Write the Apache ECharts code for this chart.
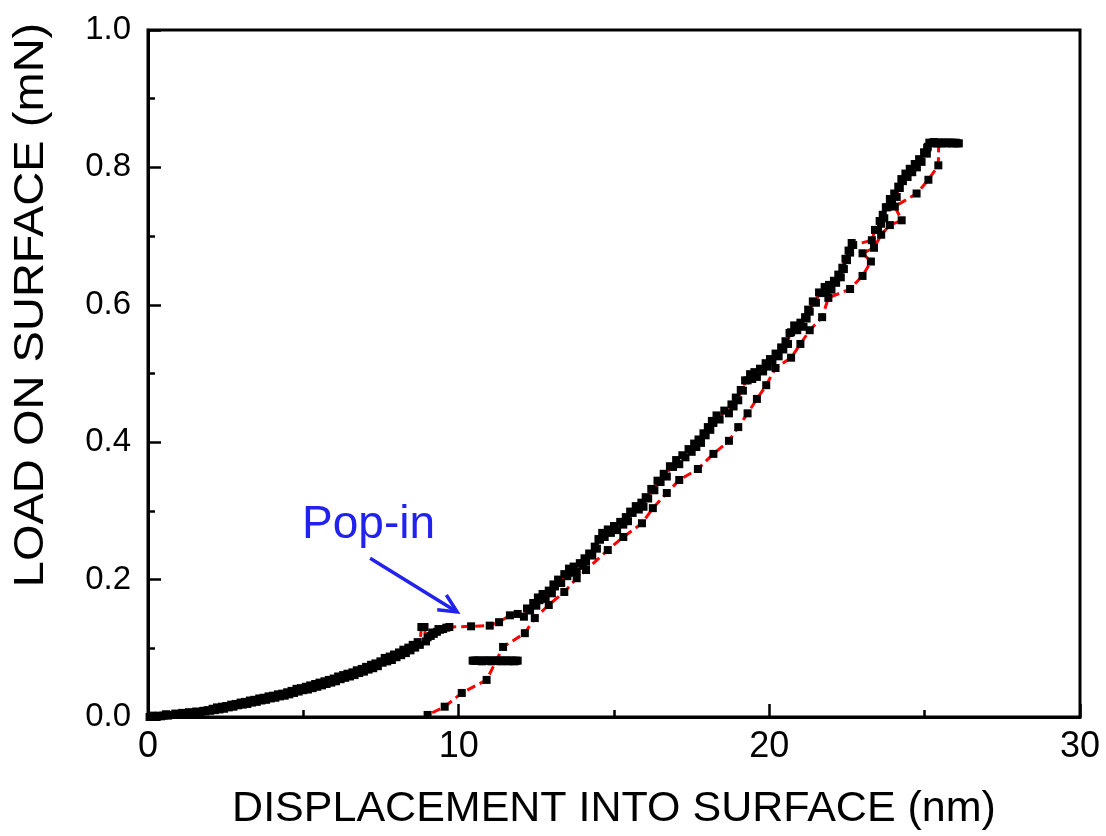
<!DOCTYPE html>
<html>
<head>
<meta charset="utf-8">
<script src="https://cdn.jsdelivr.net/npm/echarts@6/dist/echarts.min.js"></script>
<style>html,body{margin:0;padding:0;background:#fff}#c{width:1106px;height:836px}</style>
</head>
<body>
<div id="c"></div>
<script>
// Loading segment (incl. pop-in)
var loadX = [0.05,0.12,0.2,0.28,0.35,0.42,0.5,0.58,0.65,0.72,0.8,0.88,0.95,1.02,1.1,1.18,1.25,1.32,1.4,1.48,1.55,1.62,1.7,1.78,1.85,1.92,2.0,2.08,2.15,2.22,2.3,2.38,2.45,2.52,2.6,2.68,2.75,2.82,2.9,2.98,3.05,3.12,3.2,3.28,3.35,3.42,3.5,3.58,3.65,3.72,3.8,3.88,3.95,4.02,4.1,4.18,4.25,4.32,4.4,4.48,4.55,4.62,4.7,4.78,4.85,4.92,5.0,5.08,5.15,5.22,5.3,5.38,5.45,5.52,5.6,5.68,5.75,5.82,5.9,5.98,6.05,6.12,6.2,6.28,6.35,6.42,6.5,6.58,6.65,6.72,6.8,6.88,6.95,7.02,7.1,7.18,7.25,7.32,7.4,7.48,7.55,7.62,7.7,7.78,7.85,7.92,8.0,8.08,8.15,8.22,8.3,8.38,8.45,8.52,8.6,8.68,8.75,8.8,8.9,8.95,9.0,9.1,9.15,9.2,9.3,9.35,9.4,9.5,9.6,9.7,
  10.4,11.0,11.3,11.65,11.9,
  12.1,12.2,12.3,12.4,12.5,12.55,12.6,12.7,12.8,12.9,13.0,13.05,13.1,13.2,13.3,13.4,13.5,13.55,13.6,13.7,13.8,13.9,14.0,14.05,14.1,14.2,14.3,14.38,14.45,14.5,14.55,14.62,14.7,14.8,14.9,15.0,15.1,15.2,15.3,15.38,15.45,15.52,15.6,15.7,15.8,15.88,15.95,16.02,16.1,16.2,16.3,16.4,16.5,16.6,16.7,16.8,16.9,17.0,17.1,17.2,17.3,17.4,17.5,17.58,17.65,17.72,17.8,17.88,17.95,18.02,18.1,18.15,18.2,18.3,18.4,18.55,18.7,18.78,18.85,18.92,19.0,19.08,19.15,19.22,19.3,19.38,19.45,19.52,19.6,19.7,19.8,19.88,19.95,20.02,20.1,20.2,20.3,20.38,20.45,20.52,20.6,20.65,20.7,20.8,20.9,21.0,21.1,21.15,21.2,21.25,21.3,21.4,21.5,21.6,21.7,21.78,21.85,21.92,22.0,22.08,22.15,22.22,22.3,22.35,22.4,22.45,22.5,22.55,22.6,22.65,22.7,
  23.3,23.4,23.5,23.55,23.6,23.65,23.7,23.75,23.8,23.88,23.95,24.02,24.1,24.15,24.2,24.25,24.3,24.38,24.45,24.52,24.6,24.68,24.75,24.82,24.9,24.98,25.07,25.08,25.1];
var loadY = [0.000,0.002,0.001,0.000,0.002,0.001,0.002,0.004,0.002,0.003,0.003,0.005,0.003,0.004,0.006,0.004,0.005,0.007,0.005,0.006,0.008,0.006,0.007,0.009,0.008,0.010,0.009,0.012,0.010,0.014,0.011,0.015,0.012,0.016,0.014,0.018,0.015,0.019,0.017,0.021,0.018,0.022,0.019,0.024,0.021,0.025,0.022,0.027,0.024,0.028,0.025,0.030,0.027,0.031,0.028,0.033,0.030,0.034,0.031,0.036,0.033,0.038,0.035,0.041,0.037,0.042,0.039,0.044,0.040,0.046,0.042,0.048,0.044,0.050,0.046,0.052,0.048,0.054,0.050,0.056,0.052,0.059,0.055,0.061,0.057,0.063,0.059,0.065,0.061,0.068,0.064,0.070,0.066,0.073,0.069,0.076,0.071,0.078,0.074,0.081,0.079,0.086,0.081,0.088,0.083,0.091,0.087,0.094,0.090,0.098,0.093,0.101,0.097,0.105,0.101,0.109,0.105,0.131,0.131,0.110,0.116,0.118,0.123,0.121,0.124,0.128,0.127,0.128,0.130,0.131,
  0.132,0.133,0.138,0.148,0.150,
  0.146,0.158,0.155,0.166,0.162,0.174,0.170,0.179,0.172,0.184,0.180,0.193,0.190,0.200,0.195,0.208,0.205,0.216,0.210,0.219,0.212,0.224,0.220,0.231,0.226,0.238,0.235,0.248,0.245,0.259,0.258,0.268,0.262,0.273,0.268,0.278,0.272,0.284,0.280,0.291,0.285,0.299,0.297,0.307,0.302,0.312,0.306,0.320,0.318,0.332,0.330,0.344,0.342,0.354,0.350,0.365,0.364,0.374,0.368,0.381,0.378,0.390,0.386,0.398,0.393,0.404,0.399,0.413,0.410,0.422,0.418,0.431,0.428,0.439,0.433,0.446,0.442,0.455,0.452,0.465,0.461,0.476,0.475,0.490,0.490,0.499,0.492,0.502,0.495,0.507,0.503,0.515,0.510,0.521,0.517,0.529,0.525,0.538,0.535,0.547,0.543,0.559,0.560,0.570,0.563,0.574,0.568,0.582,0.580,0.593,0.590,0.605,0.603,0.618,0.617,0.626,0.620,0.629,0.622,0.635,0.632,0.644,0.640,0.654,0.652,0.667,0.665,0.679,0.676,0.690,0.687,
  0.694,0.709,0.709,0.722,0.718,0.731,0.726,0.742,0.742,0.754,0.750,0.762,0.757,0.772,0.770,0.783,0.780,0.791,0.786,0.798,0.793,0.805,0.800,0.812,0.808,0.822,0.820,0.828,0.830];
// Hold at peak load
var holdMaxX = [25.15,25.2,25.25,25.3,25.35,25.4,25.45,25.5,25.55,25.6,25.65,25.7,25.75,25.8,25.85,25.9,25.95,26.0,26.05,26.1];
var holdMaxY = [0.836,0.835,0.836,0.837,0.836,0.835,0.836,0.836,0.835,0.836,0.836,0.835,0.836,0.836,0.835,0.836,0.835,0.836,0.835,0.835];
// Unloading segment
var unloadX = [25.45,25.44,25.12,24.74,24.04,24.26,23.88,23.6,23.37,23.0,23.27,23.0,22.6,21.9,21.7,21.3,21.0,20.7,20.2,19.9,19.6,19.3,19.0,18.7,18.2,17.7,17.1,16.7,16.25,15.9,15.3,14.8,14.1,13.8,13.4,12.9,12.45,12.13,11.43,10.9,10.1,9.55,9.0];
var unloadY = [0.835,0.803,0.782,0.762,0.743,0.723,0.716,0.702,0.683,0.675,0.663,0.642,0.623,0.610,0.582,0.563,0.543,0.523,0.508,0.483,0.463,0.442,0.422,0.402,0.383,0.361,0.345,0.326,0.304,0.282,0.262,0.243,0.214,0.202,0.182,0.163,0.144,0.122,0.102,0.054,0.035,0.015,0.003];
// Hold at low load (thermal drift)
var holdLowX = [11.9,11.85,11.8,11.75,11.7,11.65,11.6,11.55,11.5,11.45,11.4,11.35,11.3,11.25,11.2,11.15,11.1,11.05,11.0,10.95,10.9,10.85,10.8,10.75,10.7,10.65,10.6,10.55,10.5,10.45];
var holdLowY = [0.082,0.082,0.081,0.082,0.082,0.082,0.081,0.082,0.082,0.082,0.082,0.081,0.082,0.082,0.082,0.082,0.082,0.081,0.082,0.082,0.082,0.082,0.082,0.081,0.082,0.082,0.082,0.082,0.082,0.082];
var xTicks = [0,10,20,30];
var yTicks = [0.0,0.2,0.4,0.6,0.8,1.0];
// annotation (data coordinates)
var arrowFrom = [7.15, 0.231];
var arrowTo = [9.95, 0.153];
var labelAt = [4.96, 0.245];
var labelText = 'Pop-in';
var xTitle = 'DISPLACEMENT INTO SURFACE (nm)';
var yTitle = 'LOAD ON SURFACE (mN)';

function pairs(xs, ys){ var o=[]; for (var i=0;i<xs.length;i++) o.push([xs[i], ys[i]]); return o; }

var FONT = '"Liberation Sans", Arial, sans-serif';
var chart = echarts.init(document.getElementById('c'));
function mkSeries(name, data){
  return {
    name: name, type: 'line', data: data,
    symbol: 'rect', symbolSize: 8,
    itemStyle: {color: '#000'},
    lineStyle: {color: '#ff0000', width: 3, type: [9,5]},
    showAllSymbol: true, animation: false, z: 3
  };
}
var option = {
  animation: false,
  backgroundColor: '#fff',
  grid: {left: 148, top: 30, right: 26, bottom: 119, containLabel: false, outerBoundsMode: 'none', show: true, borderColor: '#000', borderWidth: 3, backgroundColor: 'transparent'},
  xAxis: {
    type: 'value', min: xTicks[0], max: xTicks[xTicks.length-1], interval: 10,
    name: xTitle, nameLocation: 'middle', nameGap: 71,
    nameTextStyle: {fontFamily: FONT, fontSize: 43, color: '#000'},
    axisLine: {show: true, lineStyle: {color: '#000', width: 3}},
    axisTick: {show: true, inside: true, length: 13, lineStyle: {color: '#000', width: 2.5}},
    minorTick: {show: true, splitNumber: 2, length: 7, lineStyle: {color: '#000', width: 2.5}},
    axisLabel: {fontFamily: FONT, fontSize: 36, color: '#000', margin: 12},
    splitLine: {show: false}
  },
  yAxis: {
    type: 'value', min: yTicks[0], max: yTicks[yTicks.length-1], interval: 0.2,
    axisLine: {show: true, lineStyle: {color: '#000', width: 3}},
    axisTick: {show: true, inside: true, length: 13, lineStyle: {color: '#000', width: 2.5}},
    minorTick: {show: true, splitNumber: 2, length: 7, lineStyle: {color: '#000', width: 2.5}},
    axisLabel: {fontFamily: FONT, fontSize: 33, color: '#000', margin: 17, formatter: function(v){return v.toFixed(1);}},
    splitLine: {show: false}
  },
  series: [
    mkSeries('load', pairs(loadX, loadY)),
    mkSeries('holdMax', pairs(holdMaxX, holdMaxY)),
    mkSeries('unload', pairs(unloadX, unloadY)),
    mkSeries('holdLow', pairs(holdLowX, holdLowY))
  ]
};
chart.setOption(option);

// annotation arrow and label placed through the chart's scales
var p0 = chart.convertToPixel({gridIndex: 0}, arrowFrom);
var p1 = chart.convertToPixel({gridIndex: 0}, arrowTo);
var pl = chart.convertToPixel({gridIndex: 0}, labelAt);
var ang = Math.atan2(p1[1]-p0[1], p1[0]-p0[0]);
var hl = 20, ha = 0.45;
var h1 = [p1[0]-hl*Math.cos(ang-ha), p1[1]-hl*Math.sin(ang-ha)];
var h2 = [p1[0]-hl*Math.cos(ang+ha), p1[1]-hl*Math.sin(ang+ha)];
var blue = '#2222ee';
chart.setOption({
  graphic: [
    {type: 'line', shape: {x1: p0[0], y1: p0[1], x2: p1[0], y2: p1[1]}, style: {stroke: blue, lineWidth: 3.5}, z: 10},
    {type: 'polyline', shape: {points: [h1, p1, h2]}, style: {stroke: blue, lineWidth: 3.5, fill: null}, z: 10},
    {type: 'text', x: pl[0], y: pl[1], style: {text: labelText, fill: blue, font: '46px "Liberation Sans", Arial, sans-serif', textAlign: 'left', textVerticalAlign: 'bottom'}, z: 10},
    {type: 'text', x: 31, y: 305, rotation: Math.PI/2, scaleX: 1.12, style: {text: yTitle, fill: '#000', font: '42px "Liberation Sans", Arial, sans-serif', textAlign: 'center', textVerticalAlign: 'middle'}, z: 10}
  ]
});
</script>
</body>
</html>
